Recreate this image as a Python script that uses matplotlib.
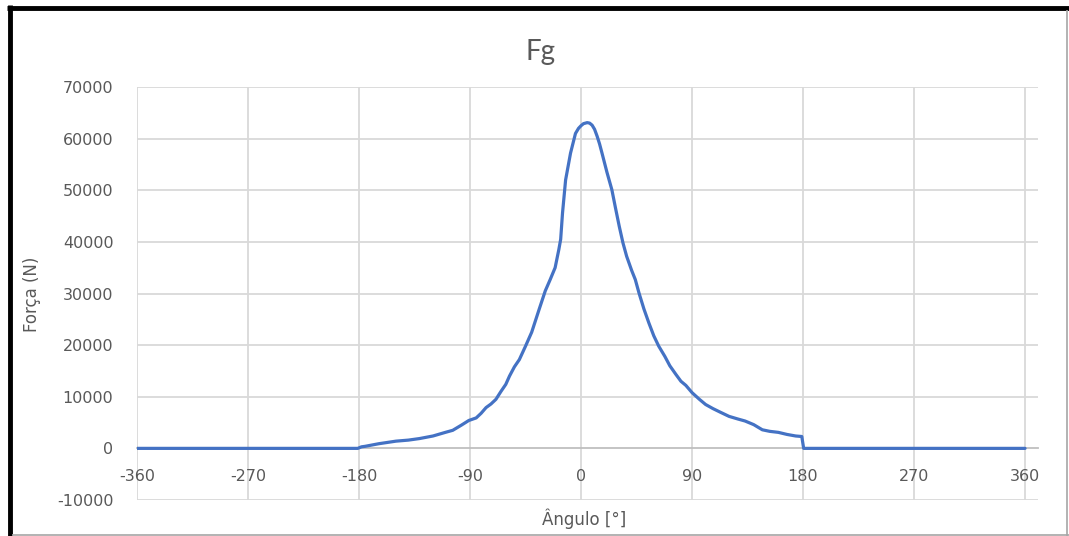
import matplotlib
matplotlib.use("Agg")
import matplotlib.pyplot as plt
from matplotlib.lines import Line2D

# Crank angle [deg] and gas force Fg [N]
angulo = [-360, -181, -178, -175, -164, -150, -140, -131, -120, -110, -104,
          -97, -91, -85, -81, -77, -73, -69, -65, -61, -58, -54, -50, -45,
          -40, -34, -29, -25, -21, -18, -16.5, -15, -12.5, -8.5, -4.5, -2, 0,
          2, 5, 7, 9, 11, 13, 15, 17, 21, 25, 28, 31, 34, 37, 41, 44, 47, 51,
          55, 59, 63, 68, 72, 77, 81, 85, 90, 96, 101, 107, 113, 120, 127, 133,
          140, 147, 153, 160, 167, 174, 179, 180.5, 360]
forca = [0, 0, 300, 400, 900, 1400, 1600, 1900, 2400, 3100, 3500,
         4500, 5400, 5900, 6800, 7900, 8600, 9500, 11000, 12400, 14000, 15800,
         17200, 19800, 22500, 26900, 30500, 32700, 35000, 38500, 40500, 45600,
         52000, 57200, 61000, 62000, 62500, 62900, 63100, 63000, 62600, 61800,
         60500, 59000, 57200, 53500, 50100, 46500, 43000, 39800, 37200, 34500,
         32700, 30100, 27000, 24300, 21800, 19800, 17800, 16000, 14300, 13000,
         12200, 10800, 9500, 8500, 7700, 7000, 6200, 5700, 5300, 4600, 3600,
         3300, 3100, 2700, 2400, 2300, 0, 0]

x_ticks = [-360, -270, -180, -90, 0, 90, 180, 270, 360]
y_ticks = list(range(-10000, 70001, 10000))

W, H = 1069, 536
fig = plt.figure(figsize=(W / 100, H / 100), dpi=100)
fig.patch.set_facecolor("white")

ax = fig.add_axes([137 / W, 1 - 500 / H, (1038 - 137) / W, (500 - 87) / H])
ax.set_xlim(-360, 370.5)
ax.set_ylim(-10000, 70000)

grid_c = "#d9d9d9"
text_c = "#595959"

# gridlines
for yv in y_ticks:
    if yv != 0:
        ax.axhline(yv, color=grid_c, lw=1.3, zorder=1)
for xv in x_ticks:
    ax.plot([xv, xv], [-10000, 70000], color=grid_c, lw=1.3, zorder=1)

ax.plot(angulo, forca, color="#4472C4", lw=2.3, zorder=3,
        solid_joinstyle="round", solid_capstyle="round")

for s in ["top", "right", "left"]:
    ax.spines[s].set_visible(False)
ax.spines["bottom"].set_position(("data", 0))
ax.spines["bottom"].set_color("#bfbfbf")
ax.spines["bottom"].set_linewidth(1.3)
ax.spines["bottom"].set_zorder(2)

ax.set_xticks(x_ticks)
ax.set_xticklabels([str(v) for v in x_ticks])
ax.set_yticks(y_ticks)
ax.set_yticklabels([str(v) for v in y_ticks])
ax.tick_params(axis="x", length=0, pad=15, labelsize=11.5, labelcolor=text_c)
ax.tick_params(axis="y", length=0, pad=17, labelsize=11.5, labelcolor=text_c)

fig.text(540 / W, 1 - 52 / H, "Fg", ha="center", va="center",
         fontsize=20, color=text_c, family="Lato")
fig.text(32 / W, 1 - 294 / H, "Força (N)", ha="center", va="center",
         rotation=90, fontsize=12, color=text_c)
fig.text(584 / W, 1 - 519 / H, "Ângulo [°]", ha="center", va="center",
         fontsize=12, color=text_c)

# chart frame
def fline(x0, y0, x1, y1, color, lw):
    fig.add_artist(Line2D([x0 / W, x1 / W], [1 - y0 / H, 1 - y1 / H],
                          transform=fig.transFigure, color=color, lw=lw,
                          solid_capstyle="butt"))

fline(7, 7.5, 1069, 7.5, "black", 3.5)
fline(9.5, 5, 9.5, 536, "black", 3.5)
fline(1067, 10, 1067, 536, "#a6a6a6", 1.2)
fline(12, 534.5, 1069, 534.5, "#a6a6a6", 1.2)

fig.savefig("out.png", dpi=100, facecolor="white")
